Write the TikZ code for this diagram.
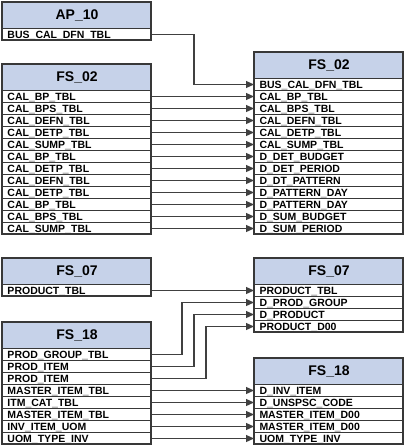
\documentclass[tikz,border=0pt]{standalone}
\usepackage{fontspec}
\setmainfont{Liberation Sans}
\usetikzlibrary{arrows.meta}
\definecolor{hdrblue}{HTML}{C6D2E9}
\definecolor{bordc}{HTML}{383838}
\definecolor{linec}{HTML}{404040}
\tikzset{
  hdr/.style={rectangle, draw=bordc, fill=hdrblue, line width=1pt, anchor=north west,
    minimum width=149pt, minimum height=26pt, inner sep=0pt,
    font=\bfseries\fontsize{14}{14}\selectfont},
  rowbox/.style={rectangle, draw=bordc, fill=white, line width=1pt, anchor=north west,
    minimum width=149pt, minimum height=12pt, inner xsep=5pt, inner ysep=0pt,
    text width=139pt, align=left, text height=7.5pt, text depth=0pt,
    font=\bfseries\fontsize{10.5}{10.5}\selectfont},
  frame/.style={draw=bordc, line width=1.5pt},
  conn/.style={draw=linec, line width=1.2pt, -{Triangle[length=8pt,width=7pt]}}
}
% #1 name, #2 x, #3 y(top), #4 title, #5 rows, #6 number of rows
\newcommand{\mktable}[6]{%
  \node[hdr] (#1h) at (#2,#3) {#4};
  \foreach \t [count=\i from 0] in {#5} {
    \node[rowbox] (#1\i) at ({#2},{#3+26+12*\i}) {\t};
  }
  \draw[frame] (#2,#3) rectangle ({#2+149},{#3+26+12*#6});
}
\begin{document}
\begin{tikzpicture}[x=1pt,y=-1pt]
\useasboundingbox[fill=white] (0,0) rectangle (405,445);
% left tables
\mktable{apa}{2}{2}{AP\_10}{BUS\_CAL\_DFN\_TBL}{1}
\mktable{lfa}{2}{64}{FS\_02}{CAL\_BP\_TBL,CAL\_BPS\_TBL,CAL\_DEFN\_TBL,CAL\_DETP\_TBL,CAL\_SUMP\_TBL,CAL\_BP\_TBL,CAL\_DETP\_TBL,CAL\_DEFN\_TBL,CAL\_DETP\_TBL,CAL\_BP\_TBL,CAL\_BPS\_TBL,CAL\_SUMP\_TBL}{12}
\mktable{lsa}{2}{258}{FS\_07}{PRODUCT\_TBL}{1}
\mktable{lea}{2}{322}{FS\_18}{PROD\_GROUP\_TBL,PROD\_ITEM,PROD\_ITEM,MASTER\_ITEM\_TBL,ITM\_CAT\_TBL,MASTER\_ITEM\_TBL,INV\_ITEM\_UOM,UOM\_TYPE\_INV}{8}
% right tables
\mktable{rfa}{254}{52}{FS\_02}{BUS\_CAL\_DFN\_TBL,CAL\_BP\_TBL,CAL\_BPS\_TBL,CAL\_DEFN\_TBL,CAL\_DETP\_TBL,CAL\_SUMP\_TBL,D\_DET\_BUDGET,D\_DET\_PERIOD,D\_DT\_PATTERN,D\_PATTERN\_DAY,D\_PATTERN\_DAY,D\_SUM\_BUDGET,D\_SUM\_PERIOD}{13}
\mktable{rsa}{254}{258}{FS\_07}{PRODUCT\_TBL,D\_PROD\_GROUP,D\_PRODUCT,PRODUCT\_D00}{4}
\mktable{rea}{254}{358}{FS\_18}{D\_INV\_ITEM,D\_UNSPSC\_CODE,MASTER\_ITEM\_D00,MASTER\_ITEM\_D00,UOM\_TYPE\_INV}{5}
% connectors
\draw[conn] (apa0.east) -- ++(42,0) |- (rfa0.west);
\foreach \i [evaluate=\i as \j using int(\i+1)] in {0,...,11} {
  \draw[conn] (lfa\i.east) -- (rfa\j.west);
}
\draw[conn] (lsa0.east) -- (rsa0.west);
\draw[conn] (lea0.east) -- ++(30,0) |- (rsa1.west);
\draw[conn] (lea1.east) -- ++(42,0) |- (rsa2.west);
\draw[conn] (lea2.east) -- ++(54,0) |- (rsa3.west);
\foreach \i [evaluate=\i as \j using int(\i-3)] in {3,...,7} {
  \draw[conn] (lea\i.east) -- (rea\j.west);
}
\end{tikzpicture}
\end{document}
